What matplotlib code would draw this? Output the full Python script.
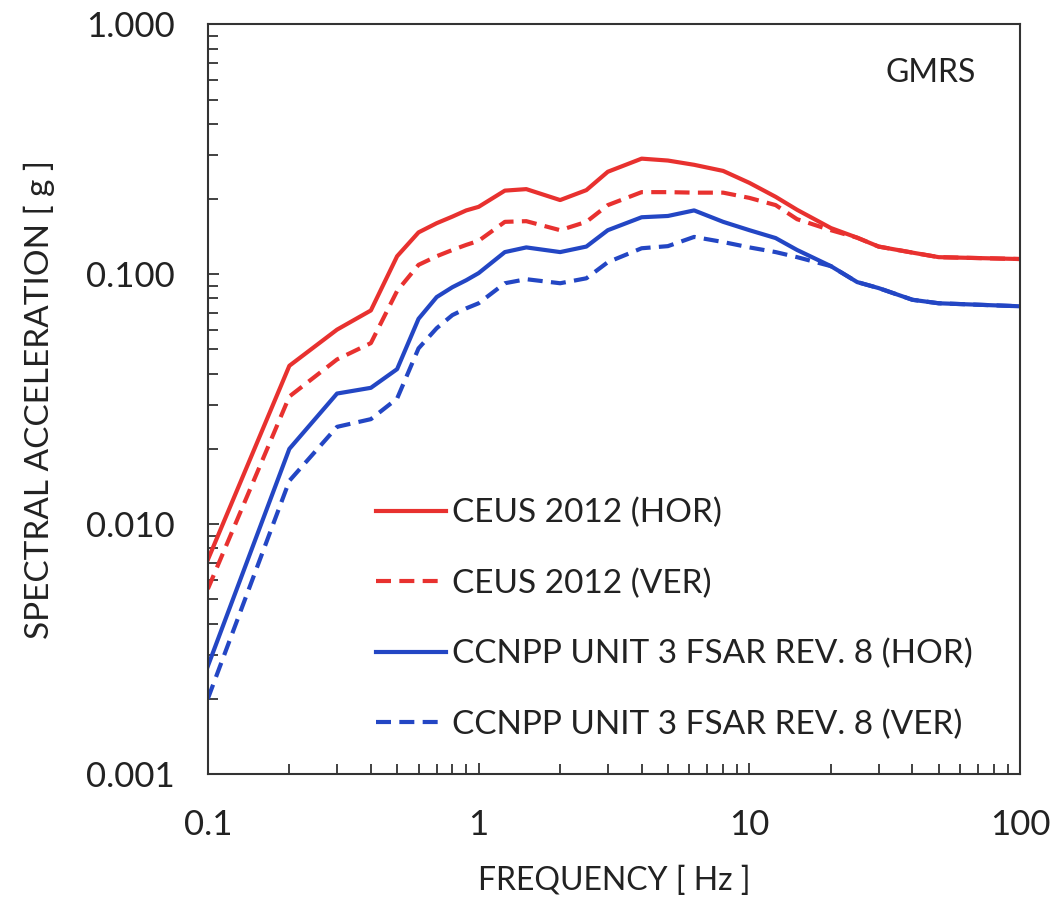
import numpy as np
import matplotlib
matplotlib.use("Agg")
import matplotlib.pyplot as plt
from matplotlib.ticker import LogLocator, NullFormatter, FixedLocator

plt.rcParams["font.family"] = ["Lato", "DejaVu Sans"]

# Data
freq = [0.1, 0.2, 0.3, 0.4, 0.5, 0.6, 0.7, 0.8, 0.9, 1.0, 1.25, 1.5, 2.0, 2.5, 3.0,
        4.0, 5.0, 6.25, 8.0, 10.0, 12.5, 15.0, 20.0, 25.0, 30.0, 40.0, 50.0, 100.0]

ceus_hor = [0.0072, 0.043, 0.060, 0.0716, 0.118, 0.147, 0.160, 0.170, 0.180, 0.186, 0.216,
            0.219, 0.198, 0.217, 0.257, 0.290, 0.285, 0.274, 0.259, 0.232, 0.204, 0.181,
            0.153, 0.140, 0.129, 0.122, 0.117, 0.115]
ceus_ver = [0.0055, 0.0324, 0.0456, 0.053, 0.0857, 0.109, 0.118, 0.125, 0.131, 0.136, 0.162,
            0.163, 0.150, 0.162, 0.189, 0.213, 0.213, 0.212, 0.212, 0.202, 0.189, 0.166,
            0.150, 0.140, 0.129, 0.122, 0.117, 0.115]
ccnpp_hor = [0.0027, 0.020, 0.0333, 0.0351, 0.0417, 0.0663, 0.081, 0.0887, 0.0946, 0.101,
             0.1226, 0.128, 0.1226, 0.129, 0.150, 0.169, 0.171, 0.180, 0.162, 0.150, 0.1395,
             0.125, 0.1077, 0.093, 0.088, 0.079, 0.0765, 0.0744]
ccnpp_ver = [0.0020, 0.0149, 0.0245, 0.0263, 0.0318, 0.0505, 0.0608, 0.0686, 0.073, 0.0765,
             0.092, 0.0955, 0.092, 0.0963, 0.1117, 0.127, 0.1295, 0.141, 0.1345, 0.128,
             0.1226, 0.117, 0.1077, 0.093, 0.088, 0.079, 0.0765, 0.0744]

red = "#e8312f"
blue = "#2346c4"
dash = (0, (3.6, 2.0))

fig = plt.figure(figsize=(10.55, 9), dpi=100)
ax = fig.add_axes([0.197, 0.140, 0.770, 0.833])

ax.plot(freq, ceus_hor, color=red, lw=3, label="CEUS 2012 (HOR)")
ax.plot(freq, ceus_ver, color=red, lw=3, ls=dash, label="CEUS 2012 (VER)")
ax.plot(freq, ccnpp_hor, color=blue, lw=3, label="CCNPP UNIT 3 FSAR REV. 8 (HOR)")
ax.plot(freq, ccnpp_ver, color=blue, lw=3, ls=dash, label="CCNPP UNIT 3 FSAR REV. 8 (VER)")

ax.set_xscale("log")
ax.set_yscale("log")
ax.set_xlim(0.1, 100)
ax.set_ylim(0.001, 1.0)

ax.xaxis.set_major_locator(FixedLocator([0.1, 1, 10, 100]))
ax.set_xticklabels(["0.1", "1", "10", "100"])
ax.yaxis.set_major_locator(FixedLocator([0.001, 0.01, 0.1, 1.0]))
ax.set_yticklabels(["0.001", "0.010", "0.100", "1.000"])
ax.xaxis.set_minor_locator(LogLocator(base=10, subs=np.arange(2, 10)))
ax.yaxis.set_minor_locator(LogLocator(base=10, subs=np.arange(2, 10)))
ax.xaxis.set_minor_formatter(NullFormatter())
ax.yaxis.set_minor_formatter(NullFormatter())

ax.tick_params(which="both", direction="in", top=False, right=False,
               width=1.3, color="#333333", labelsize=25, labelcolor="#222222")
ax.tick_params(axis="y", which="major", length=8, pad=24)
ax.tick_params(axis="x", which="major", length=8, pad=25)
ax.tick_params(which="minor", length=7)
for s in ax.spines.values():
    s.set_linewidth(1.5)
    s.set_color("#333333")

ax.set_xlabel("FREQUENCY [ Hz ]", fontsize=23, color="#222222", labelpad=18)
ax.set_ylabel("SPECTRAL ACCELERATION [ g ]", fontsize=24, color="#222222", labelpad=22)

ax.text(0.945, 0.935, "GMRS", transform=ax.transAxes, fontsize=23,
        ha="right", va="center", color="#222222")

ax.legend(loc="upper left", bbox_to_anchor=(0.19, 0.386), frameon=False,
          borderaxespad=0, fontsize=24, handlelength=2.1, handletextpad=0.2,
          labelspacing=1.2, labelcolor="#222222")

fig.savefig("out.png", dpi=100)
